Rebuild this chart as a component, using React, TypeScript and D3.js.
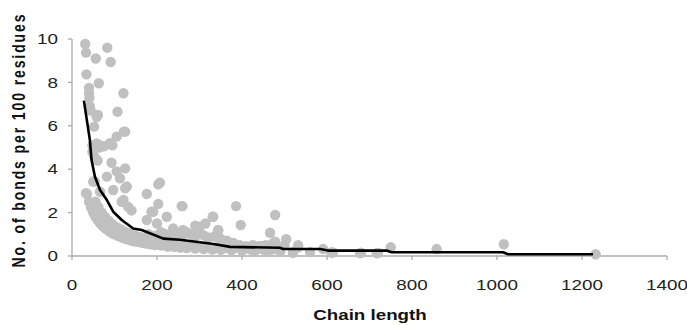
import * as d3 from "d3";

// scatter: chain length vs bonds per 100 residues
const chainLength = [
  31, 33, 56, 83, 91, 34, 63, 40, 40, 41, 121, 42, 44, 61, 58, 107, 52, 122, 58, 89, 105, 125, 64, 75, 95, 48, 50, 52,
  48, 55, 60, 66,
  93, 125, 105, 82, 54, 113, 207, 203, 97, 125, 33, 176, 117, 132, 203, 187, 223, 140, 129, 121, 191, 258, 176, 200,
  238, 261, 301, 332, 344, 290, 314, 66, 50,
  260, 386, 331, 397, 478, 466, 504, 478, 750, 858, 1016, 1232, 532, 591, 614, 678, 717, 520, 344, 532, 430, 445,
  // lower band
  35, 40, 45, 50, 55, 60, 65, 70, 75, 80, 85, 90, 95, 100, 108, 115, 122, 130, 138, 146, 155, 165, 175, 185, 195,
  210, 225, 240, 255, 270, 290, 310, 330, 350, 375, 400, 430, 460, 490, 520, 560, 610, 680, 720,
  55, 62, 70, 78, 86, 95, 105, 115, 125, 135, 148, 160, 175, 190, 205, 220, 240, 260, 280,
  // cloud around the line
  180, 190, 200, 210, 220, 230, 240, 250, 260, 270, 280, 290, 300, 310, 320, 335, 350, 365, 380, 395, 410, 425, 440,
  455, 470, 480, 500,
  180, 200, 220, 240, 260, 280, 300, 320, 340, 360, 380, 400, 420, 450, 470,
];
const bondsPer100 = [
  9.77, 9.37, 9.1, 9.6, 8.94, 8.37, 7.96, 7.75, 7.5, 7.3, 7.5, 6.9, 6.7, 6.5, 6.4, 6.65, 5.96, 5.73, 5.19, 5.2, 5.5,
  5.73, 5.0, 5.05, 5.1, 5.1, 4.9, 4.6,
  4.8, 4.5, 4.4, 5.1,
  4.3, 4.04, 3.9, 3.66, 3.43, 3.58, 3.38, 3.3, 3.04, 3.12, 2.89, 2.86, 2.5, 2.27, 2.4, 2.04, 1.81, 2.1, 3.2, 2.58,
  2.04, 2.3, 1.66, 1.5, 1.27, 1.2, 1.35, 1.81, 1.2, 1.4, 1.5, 2.96, 3.43,
  2.3, 2.3, 1.81, 1.43, 1.89, 1.07, 0.77, 0.66, 0.4, 0.32, 0.54, 0.08, 0.4, 0.32, 0.16, 0.13, 0.13, 0.15, 1.17, 0.5,
  0.45, 0.45,
  2.86, 2.5, 2.22, 2.0, 1.82, 1.67, 1.54, 1.43, 1.33, 1.25, 1.18, 1.11, 1.05, 1.0, 0.93, 0.87, 0.82, 0.77, 0.72, 0.68,
  0.65, 0.61, 0.57, 0.54, 0.51, 0.48, 0.44, 0.42, 0.39, 0.37, 0.34, 0.32, 0.3, 0.29, 0.27, 0.25, 0.23, 0.22, 0.2,
  0.19, 0.18, 0.16, 0.15, 0.14,
  2.5, 2.26, 2.0, 1.8, 1.63, 1.47, 1.33, 1.22, 1.12, 1.04, 0.95, 0.88, 0.8, 0.74, 0.68, 0.64, 0.58, 0.54, 0.5,
  1.0, 0.9, 0.95, 1.1, 1.0, 0.9, 1.05, 1.0, 0.95, 1.1, 1.0, 0.9, 1.05, 0.95, 0.85, 0.9, 0.8, 0.7, 0.6, 0.5, 0.45, 0.5,
  0.45, 0.5, 0.55, 0.45, 0.5,
  0.65, 0.6, 0.6, 0.55, 0.55, 0.5, 0.45, 0.45, 0.4, 0.38, 0.35, 0.33, 0.3, 0.3, 0.3,
];

// black trend line
const lineLength = [28, 42, 46, 54, 66, 82, 97, 117, 144, 164, 215, 254, 333, 372, 489, 497, 584, 602, 740, 752, 1014, 1026, 1226];
const lineBonds = [7.16, 5.35, 4.42, 3.65, 3.04, 2.58, 2.04, 1.66, 1.27, 1.2, 0.8, 0.75, 0.55, 0.42, 0.38, 0.32, 0.32, 0.25, 0.25, 0.17, 0.17, 0.08, 0.08];

const xTicks = [0, 200, 400, 600, 800, 1000, 1200, 1400];
const yTicks = [0, 2, 4, 6, 8, 10];

const W = 687;
const H = 325;
const left = 72;
const right = 667;
const top = 39;
const bottom = 256;
// the original picture is stretched sideways, text too
const stretch = 1.3;

export default function App() {
  const x = d3.scaleLinear().domain([0, 1400]).range([left, right]);
  const y = d3.scaleLinear().domain([0, 10]).range([bottom, top]);
  const line = d3
    .line<number>()
    .x((d, i) => x(lineLength[i]))
    .y((d) => y(d));

  const axisColor = "#ababab";
  const font = "Liberation Sans, Arial, sans-serif";

  return (
    <svg width={W} height={H} style={{ position: "absolute", left: 0, top: 0, background: "#fff" }}>
      {/* y axis */}
      <line x1={left} x2={left} y1={top} y2={bottom} stroke={axisColor} strokeWidth={1.3} />
      {yTicks.map((t) => (
        <g key={"y" + t}>
          <line x1={left - 4} x2={left} y1={y(t)} y2={y(t)} stroke={axisColor} strokeWidth={1.3} />
          <text
            transform={`translate(${left - 14},${y(t)}) scale(${stretch},1)`}
            dy="0.36em"
            textAnchor="end"
            fontFamily={font}
            fontSize={14.5}
            fill="#222"
          >
            {t}
          </text>
        </g>
      ))}
      {/* x axis */}
      <line x1={left} x2={right} y1={bottom} y2={bottom} stroke={axisColor} strokeWidth={1.3} />
      {xTicks.map((t) => (
        <g key={"x" + t}>
          <line x1={x(t)} x2={x(t)} y1={bottom} y2={bottom + 4} stroke={axisColor} strokeWidth={1.3} />
          <text
            transform={`translate(${x(t)},289.5) scale(${stretch},1)`}
            textAnchor="middle"
            fontFamily={font}
            fontSize={14.5}
            fill="#222"
          >
            {t}
          </text>
        </g>
      ))}

      {chainLength.map((c, i) => (
        <circle key={i} cx={x(c)} cy={y(bondsPer100[i])} r={5.2} fill="#c0c0c0" />
      ))}

      <path d={line(lineBonds) || ""} fill="none" stroke="#000" strokeWidth={2.6} strokeLinejoin="round" />

      <text
        transform={`translate(370,320) scale(1.25,1)`}
        textAnchor="middle"
        fontFamily={font}
        fontSize={15}
        fontWeight="bold"
        fill="#111"
      >
        Chain length
      </text>
      <text
        transform={`translate(25,141) scale(${stretch},1) rotate(-90)`}
        textAnchor="middle"
        fontFamily={font}
        fontSize={14}
        fontWeight="bold"
        textLength={253}
        lengthAdjust="spacing"
        fill="#111"
      >
        No. of bonds per 100 residues
      </text>
    </svg>
  );
}
